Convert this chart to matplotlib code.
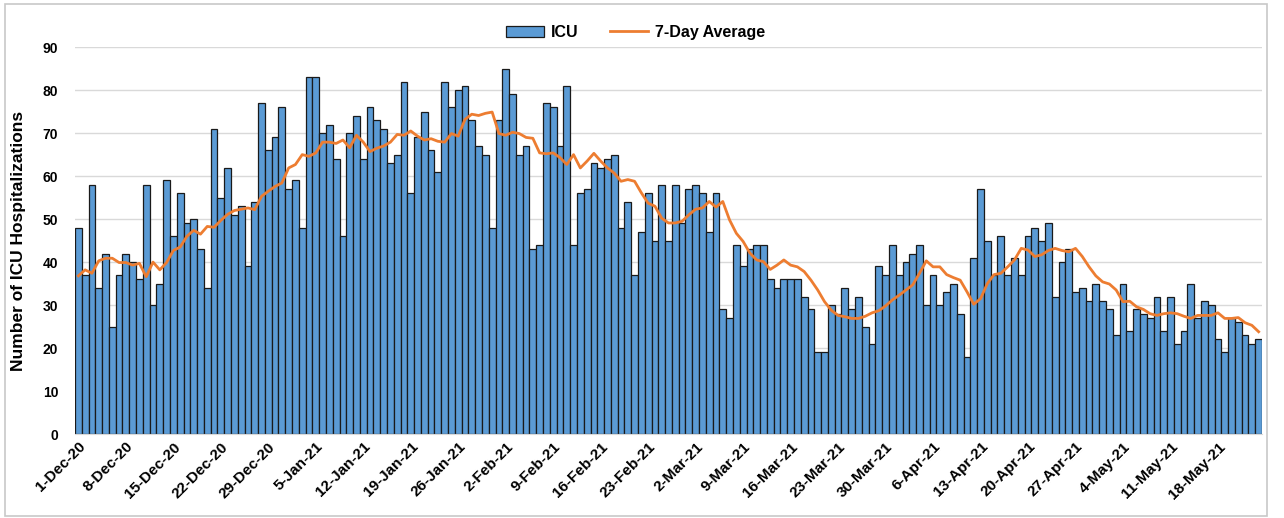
import matplotlib
matplotlib.use("Agg")
import matplotlib.pyplot as plt
import numpy as np
import pandas as pd
from matplotlib.patches import Rectangle

plt.rcParams['font.family'] = ['Liberation Sans', 'DejaVu Sans']

start_date = "2020-12-01"
n_days = 175

icu = [48, 37, 58, 34, 42, 25, 37, 42, 40, 36, 58, 30, 35, 59, 46, 56, 49, 50, 43, 34,
       71, 55, 62, 51, 53, 39, 54, 77, 66, 69, 76, 57, 59, 48, 83, 83, 70, 72, 64, 46,
       70, 74, 64, 76, 73, 71, 63, 65, 82, 56, 69, 75, 66, 61, 82, 76, 80, 81, 73, 67,
       65, 48, 73, 85, 79, 65, 67, 43, 44, 77, 76, 67, 81, 44, 56, 57, 63, 62, 64, 65,
       48, 54, 37, 47, 56, 45, 58, 45, 58, 49, 57, 58, 56, 47, 56, 29, 27, 44, 39, 43,
       44, 44, 36, 34, 36, 36, 36, 32, 29, 19, 19, 30, 28, 34, 29, 32, 25, 21, 39, 37,
       44, 37, 40, 42, 44, 30, 37, 30, 33, 35, 28, 18, 41, 57, 45, 37, 46, 37, 41, 37,
       46, 48, 45, 49, 32, 40, 43, 33, 34, 31, 35, 31, 29, 23, 35, 24, 29, 28, 27, 32,
       24, 32, 21, 24, 35, 27, 31, 30, 22, 19, 27, 26, 23, 21, 22]

avg7 = [36.8, 38.2, 37.4, 40.3, 40.9, 40.9, 39.9, 39.9, 39.3, 39.7, 36.6, 40.0, 38.2, 39.9, 42.7,
        43.5, 46.0, 47.4, 46.5, 48.3, 48.1, 49.7, 51.1, 52.0, 52.3, 52.6, 52.2, 55.3, 56.5, 57.6,
        58.4, 61.9, 62.7, 65.0, 64.6, 65.4, 67.9, 67.9, 67.6, 68.4, 66.6, 69.5, 67.9, 65.7, 66.5,
        67.0, 67.9, 69.7, 69.5, 70.5, 69.3, 68.4, 68.7, 68.1, 67.9, 69.9, 69.3, 73.2, 74.4, 74.1,
        74.6, 74.9, 69.9, 69.5, 70.2, 69.9, 69.0, 68.8, 65.4, 65.2, 65.4, 64.3, 62.7, 65.0, 61.9,
        63.5, 65.3, 63.5, 61.9, 60.7, 58.8, 59.2, 58.8, 56.1, 53.7, 53.0, 50.2, 49.1, 49.1, 49.5,
        51.0, 52.3, 52.6, 54.1, 52.8, 54.1, 49.8, 46.7, 44.8, 42.1, 40.5, 40.1, 38.3, 39.3, 40.5,
        39.3, 38.9, 37.8, 35.8, 33.5, 30.8, 28.8, 27.6, 27.3, 26.9, 26.9, 27.4, 28.2, 28.7, 29.8,
        31.2, 32.3, 33.5, 34.7, 37.4, 40.3, 38.9, 38.9, 37.1, 36.4, 35.8, 33.1, 30.2, 31.5, 35.0,
        37.1, 37.4, 38.9, 40.5, 43.2, 42.8, 41.3, 41.7, 42.7, 43.2, 42.7, 42.4, 43.2, 41.3, 38.9,
        36.8, 35.4, 34.9, 33.5, 30.8, 30.9, 29.6, 29.0, 28.0, 27.6, 28.0, 28.2, 28.0, 27.4, 26.9,
        27.6, 27.6, 27.6, 28.2, 26.9, 26.9, 27.1, 25.9, 25.3, 23.8]

dates = pd.date_range(start_date, periods=n_days, freq="D")
tick_idx = list(range(0, n_days, 7))
tick_labels = [f"{d.day}-{d.strftime('%b')}-{d.strftime('%y')}" for d in dates[tick_idx]]

fig = plt.figure(figsize=(12.84, 5.18), dpi=100)
ax = fig.add_axes([0.0584, 0.162, 0.9245, 0.747])

x = np.arange(n_days)
bars = ax.bar(x, icu, width=1.0, color="#5B9BD5", edgecolor="#1a1a1a", linewidth=0.9,
              label="ICU", zorder=2)
line, = ax.plot(x, avg7, color="#ED7D31", linewidth=2.0, label="7-Day Average", zorder=3)

ax.set_xlim(-0.5, n_days - 0.5)
ax.set_ylim(0, 90)
ax.set_yticks(range(0, 91, 10))
ax.yaxis.grid(True, color="#d9d9d9", linewidth=1.0, zorder=0)
ax.set_axisbelow(True)
for s in ["top", "right", "left"]:
    ax.spines[s].set_visible(False)
ax.spines["bottom"].set_color("#d9d9d9")
ax.tick_params(axis="both", length=0)
ax.tick_params(axis="y", pad=12)
ax.tick_params(axis="x", pad=4)
ax.set_xticks(tick_idx)
ax.set_xticklabels(tick_labels, rotation=45, ha="right", rotation_mode="anchor",
                   fontsize=11, fontweight="bold")
for lab in ax.get_yticklabels():
    lab.set_fontsize(10)
    lab.set_fontweight("bold")
ax.set_ylabel("Number of ICU Hospitalizations", fontsize=12.5, fontweight="bold", labelpad=12)

leg = ax.legend([bars, line], ["ICU", "7-Day Average"], loc="upper center",
                bbox_to_anchor=(0.472, 1.095), ncol=2, frameon=False,
                prop={"weight": "bold", "size": 11.5}, handlelength=2.4, columnspacing=2.0,
                handletextpad=0.4)

fig.patches.append(Rectangle((0.004, 0.004), 0.983, 0.988, transform=fig.transFigure,
                             fill=False, edgecolor="#c8c8c8", linewidth=1.2))

fig.savefig("out.png", dpi=100)
